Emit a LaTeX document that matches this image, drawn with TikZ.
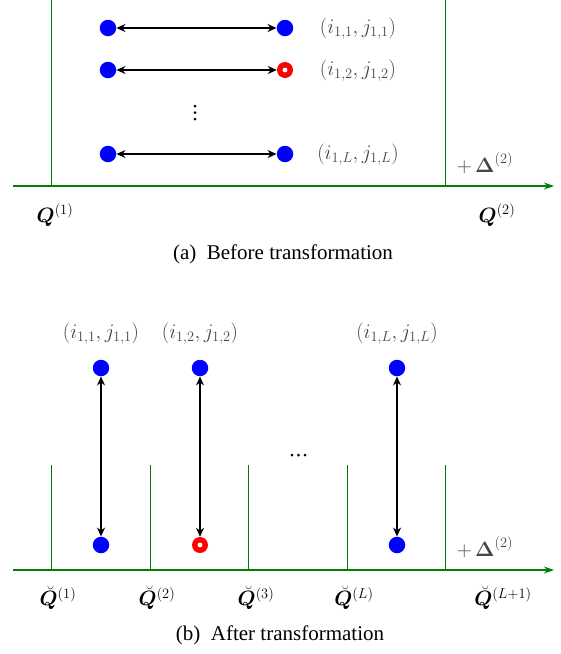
\documentclass[tikz,border=0pt]{standalone}
\usepackage{amsmath,bm}
\usepackage{fontspec}
\setmainfont{Liberation Serif}
\usetikzlibrary{arrows.meta}
\definecolor{axgreen}{RGB}{0,128,0}
\definecolor{lblgray}{RGB}{70,70,70}
\tikzset{
  dotb/.style={circle,fill=blue,inner sep=0pt,minimum size=16.5pt},
  dotr/.style={circle,fill=red,inner sep=0pt,minimum size=16pt,
    path picture={\fill[white] (path picture bounding box.center) circle (2.4pt);}},
  pair/.style={<->,>={Stealth[length=9pt,width=8pt]},line width=1.4pt,black},
  sep/.style={axgreen,line width=1pt},
  axis/.style={axgreen,line width=1.2pt,-{Stealth[length=10pt,width=7pt]}},
  lbl/.style={text=lblgray,font=\fontsize{20}{24}\selectfont},
  qlbl/.style={font=\fontsize{19.5}{24}\selectfont},
  captxt/.style={font=\fontsize{21}{25}\selectfont},
  smalldot/.style={circle,fill=black,inner sep=0pt,minimum size=3pt}
}
\begin{document}
\begin{tikzpicture}[x=1pt,y=-1pt]
\useasboundingbox (0,0) rectangle (561,654);
% ---------- (a) ----------
\coordinate (a0) at (13,186);
\coordinate (a1) at (554,186);
\coordinate (va1t) at (51,0); \coordinate (va1b) at (51,186);
\coordinate (va2t) at (445,0); \coordinate (va2b) at (445,186);
\draw[sep] (va1t) -- (va1b);
\draw[sep] (va2t) -- (va2b);
\draw[axis] (a0) -- (a1);
\node[dotb] (l1) at (108,28) {};
\node[dotb] (r1) at (285,28) {};
\node[dotb] (l2) at (108,70) {};
\node[dotr] (r2) at (285,70) {};
\node[dotb] (l3) at (108,154) {};
\node[dotb] (r3) at (285,154) {};
\draw[pair] (l1) -- (r1);
\draw[pair] (l2) -- (r2);
\draw[pair] (l3) -- (r3);
\node[smalldot] (vd1) at (195,106) {};
\node[smalldot] (vd2) at (195,112.5) {};
\node[smalldot] (vd3) at (195,119) {};
\node[lbl] (p1) at (358,29) {$(i_{1,1},j_{1,1})$};
\node[lbl] (p2) at (358,71) {$(i_{1,2},j_{1,2})$};
\node[lbl] (p3) at (358,155) {$(i_{1,L},j_{1,L})$};
\node[lbl] (da) at (485,163) {$+\,\bm{\Delta}^{(2)}$};
\node[qlbl] (qa1) at (55,215) {$\bm{Q}^{(1)}$};
\node[qlbl] (qa2) at (497,215) {$\bm{Q}^{(2)}$};
\node[captxt] (capa) at (283,254) {(a)\ \ Before transformation};
% ---------- (b) ----------
\coordinate (b0) at (13,570);
\coordinate (b1) at (554,570);
\foreach \x [count=\i] in {51,150,248,347,445}{
  \coordinate (vb\i t) at (\x,465); \coordinate (vb\i b) at (\x,570);
  \draw[sep] (vb\i t) -- (vb\i b);
}
\draw[axis] (b0) -- (b1);
\node[dotb] (t1) at (101,368) {};
\node[dotb] (t2) at (200,368) {};
\node[dotb] (t3) at (397,368) {};
\node[dotb] (u1) at (101,545) {};
\node[dotr] (u2) at (200,545) {};
\node[dotb] (u3) at (397,545) {};
\draw[pair] (t1) -- (u1);
\draw[pair] (t2) -- (u2);
\draw[pair] (t3) -- (u3);
\node[lbl] (q1) at (101,334) {$(i_{1,1},j_{1,1})$};
\node[lbl] (q2) at (200,334) {$(i_{1,2},j_{1,2})$};
\node[lbl] (q3) at (397,334) {$(i_{1,L},j_{1,L})$};
\node[smalldot] (hd1) at (292,455) {};
\node[smalldot] (hd2) at (298.5,455) {};
\node[smalldot] (hd3) at (305,455) {};
\node[lbl] (db) at (485,547) {$+\,\bm{\Delta}^{(2)}$};
\node[qlbl] (qb1) at (58,598) {$\breve{\bm{Q}}^{(1)}$};
\node[qlbl] (qb2) at (157,598) {$\breve{\bm{Q}}^{(2)}$};
\node[qlbl] (qb3) at (256,598) {$\breve{\bm{Q}}^{(3)}$};
\node[qlbl] (qb4) at (354,598) {$\breve{\bm{Q}}^{(L)}$};
\node[qlbl] (qb5) at (503,598) {$\breve{\bm{Q}}^{(L+1)}$};
\node[captxt] (capb) at (280,635) {(b)\ \ After transformation};
\end{tikzpicture}
\end{document}
